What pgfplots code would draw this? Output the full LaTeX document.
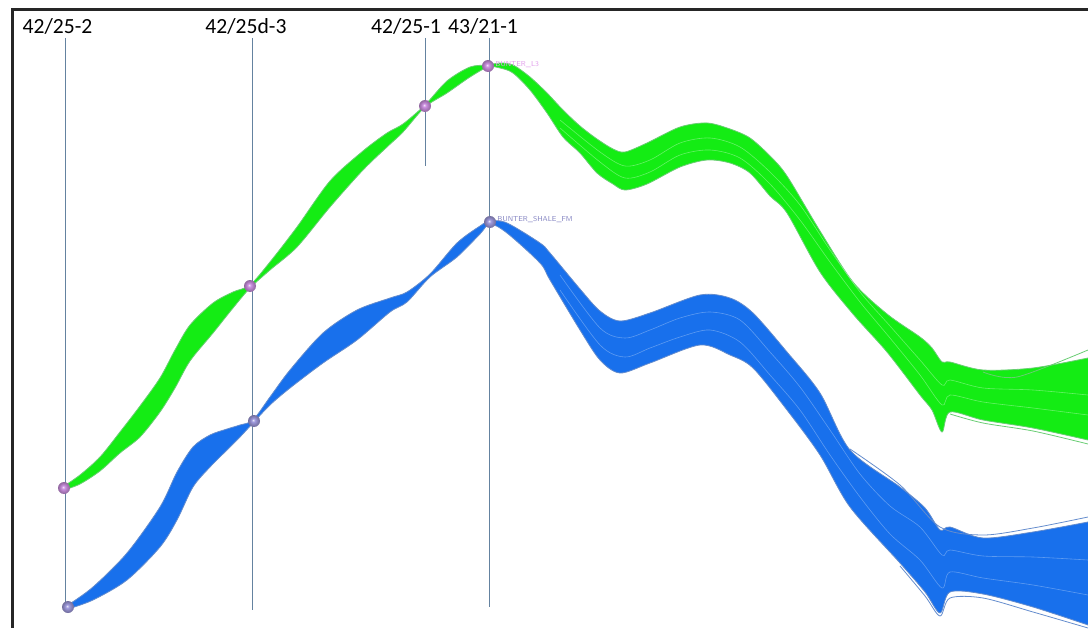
\documentclass[border=0pt]{standalone}
\usepackage{pgfplots}
\pgfplotsset{compat=1.18}
\usepackage{pgfplotstable}
\usepgfplotslibrary{fillbetween}
\usepackage{fontspec}
\setmainfont{Carlito}

\definecolor{bundlegreen}{RGB}{20,236,20}
\definecolor{edgegreen}{RGB}{105,205,115}
\definecolor{bundleblue}{RGB}{24,112,236}
\definecolor{edgeblue}{RGB}{100,140,205}
\definecolor{wellline}{RGB}{100,130,160}
\definecolor{pinkball}{RGB}{205,145,225}
\definecolor{violetball}{RGB}{160,155,222}
\definecolor{pinktext}{RGB}{225,160,235}
\definecolor{violettext}{RGB}{135,135,195}

% soft shaded spheres for the well tops
\pgfdeclareradialshading{pinksphere}{\pgfpoint{-4bp}{4bp}}{%
  color(0bp)=(white!75!pinkball); color(7bp)=(pinkball); color(18bp)=(pinkball!80!black); color(30bp)=(pinkball!65!black)}
\pgfdeclareradialshading{violetsphere}{\pgfpoint{-4bp}{4bp}}{%
  color(0bp)=(white!75!violetball); color(7bp)=(violetball); color(18bp)=(violetball!80!black); color(30bp)=(violetball!65!black)}
\pgfdeclareplotmark{pinkballmark}{\pgfpathcircle{\pgfpointorigin}{\pgfplotmarksize}\pgfshadepath{pinksphere}{0}\pgfusepath{discard}}
\pgfdeclareplotmark{violetballmark}{\pgfpathcircle{\pgfpointorigin}{\pgfplotmarksize}\pgfshadepath{violetsphere}{0}\pgfusepath{discard}}

% Upper and lower envelopes of the BUNTER_L3 surface realisations
\pgfplotstableread{
x top bot
64 486 490
80 475 484
100 457 471
120 432 453
140 406 437
160 378 412
175 350 388
190 325 361
213 303 333
233 292 308
250 285 288
270 262 270
297 227 247
330 181 207
363 151 170
387 133 147
403 124 132
425 105 107
447 81 93
470 67 77
488 65 67
500 63 68
513 65 73
530 77 90
547 93 113
563 110 137
580 126 153
597 139 173
613 149 184
625 152 190
647 143 184
680 127 167
707 123 160
730 129 163
750 138 173
770 156 196
787 176 213
820 231 272
853 282 314
887 314 352
920 337 395
932 348 410
942 362 432
950 362 412
983 370 420
1033 368 428
1088 358 440
}\greenenv

% Upper and lower envelopes of the BUNTER_SHALE_FM surface realisations
\pgfplotstableread{
x top bot
68 605 609
93 587 600
127 553 580
160 507 547
177 472 520
193 447 487
210 435 467
227 429 450
240 425 437
253 420 423
270 397 405
290 370 388
323 333 363
357 310 340
390 298 312
407 292 302
430 274 277
457 243 257
480 226 234
490 221 224
507 223 233
540 243 263
550 253 280
580 289 330
600 311 360
620 321 373
650 313 363
700 295 345
730 298 355
753 313 368
787 352 410
820 393 455
850 450 507
900 487 563
925 508 592
940 530 613
950 527 592
983 538 594
1033 532 607
1088 522 625
}\blueenv

% single realisations inside the bundles
\pgfplotstableread{
x ga gb ba bb
560 120 128 275 290
600 152 162 328 345
625 166 178 338 357
650 160 172 330 348
680 143 155 318 337
710 138 150 312 330
740 147 158 320 342
770 172 184 352 375
800 205 220 387 410
830 250 262 430 455
860 292 302 474 497
890 326 338 506 534
920 360 375 527 560
942 385 405 555 588
950 380 395 550 572
983 388 402 556 578
1033 390 408 557 585
1088 395 415 560 595
}\strands

\begin{document}
\begin{tikzpicture}
\begin{axis}[
  scale only axis, width=544pt, height=314pt,
  xmin=0, xmax=1088, ymin=0, ymax=628, y dir=reverse,
  hide axis, clip=true,
]
\path (axis cs:0,0) rectangle (axis cs:1088,628);

% frame
\draw[line width=1.5pt, black!85] (axis cs:11,9.5) -- (axis cs:1088,9.5);
\draw[line width=1.5pt, black!85] (axis cs:12.5,9) -- (axis cs:12.5,628);

% BUNTER_L3 bundle
\addplot[name path=gtop, draw=edgegreen, line width=0.4pt, smooth, tension=0.5] table[x=x,y=top]{\greenenv};
\addplot[name path=gbot, draw=edgegreen, line width=0.4pt, smooth, tension=0.5] table[x=x,y=bot]{\greenenv};
\addplot[bundlegreen] fill between[of=gtop and gbot];
\addplot[draw=white, opacity=0.35, line width=0.3pt, smooth, tension=0.5] table[x=x,y=ga]{\strands};
\addplot[draw=white, opacity=0.35, line width=0.3pt, smooth, tension=0.5] table[x=x,y=gb]{\strands};
\addplot[draw=edgegreen, line width=0.4pt, smooth] coordinates {(983,372) (1017,377) (1088,350)};
\addplot[draw=edgegreen, line width=0.4pt, smooth] coordinates {(950,414) (983,423) (1033,431) (1088,444)};

% BUNTER_SHALE_FM bundle
\addplot[name path=btop, draw=edgeblue, line width=0.4pt, smooth, tension=0.5] table[x=x,y=top]{\blueenv};
\addplot[name path=bbot, draw=edgeblue, line width=0.4pt, smooth, tension=0.5] table[x=x,y=bot]{\blueenv};
\addplot[bundleblue] fill between[of=btop and bbot];
\addplot[draw=white, opacity=0.3, line width=0.3pt, smooth, tension=0.5] table[x=x,y=ba]{\strands};
\addplot[draw=white, opacity=0.3, line width=0.3pt, smooth, tension=0.5] table[x=x,y=bb]{\strands};
\addplot[draw=edgeblue, line width=0.4pt, smooth, tension=0.5] coordinates {(900,566) (925,596) (940,616) (950,598) (983,598) (1033,612) (1088,628)};
\addplot[draw=edgeblue, line width=0.4pt, smooth, tension=0.5] coordinates {(850,449) (900,485) (940,527) (983,535) (1033,528) (1088,517)};

% wells
\addplot[wellline, line width=0.5pt] coordinates {(65,38) (65,607)};
\addplot[wellline, line width=0.5pt] coordinates {(252,38) (252,610)};
\addplot[wellline, line width=0.5pt] coordinates {(425,38) (425,166)};
\addplot[wellline, line width=0.5pt] coordinates {(489,38) (489,607)};

% well tops
\addplot[only marks, mark=pinkballmark, mark size=3pt] coordinates {(64,488) (250,286) (425,106) (488,66)};
\addplot[only marks, mark=violetballmark, mark size=3pt] coordinates {(68,607) (254,421) (490,222)};

% labels
\node[anchor=base, font=\fontsize{10.8}{12}\selectfont] at (axis cs:57.5,34) {42/25-2};
\node[anchor=base, font=\fontsize{10.8}{12}\selectfont] at (axis cs:246,34) {42/25d-3};
\node[anchor=base, font=\fontsize{10.8}{12}\selectfont] at (axis cs:406,34) {42/25-1};
\node[anchor=base, font=\fontsize{10.8}{12}\selectfont] at (axis cs:483,34) {43/21-1};
\node[anchor=west, inner sep=0pt, text=pinktext, font=\sffamily\fontsize{3.6}{4}\selectfont] at (axis cs:495,65) {BUNTER\_L3};
\node[anchor=west, inner sep=0pt, text=violettext, font=\sffamily\fontsize{3.6}{4}\selectfont] at (axis cs:497,220) {BUNTER\_SHALE\_FM};
\end{axis}
\end{tikzpicture}
\end{document}
